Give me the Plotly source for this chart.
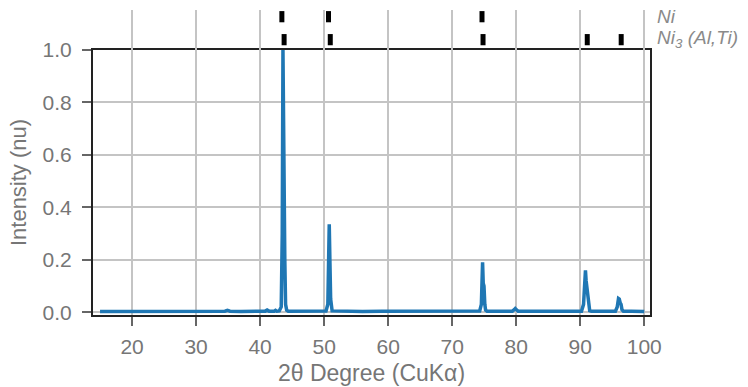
import plotly.graph_objects as go

# Diffractogram trace: 2-theta (deg) and normalised intensity
two_theta = [
    15.0, 17.0, 19.0, 21.0, 23.0, 25.0, 27.0, 29.0, 31.0, 33.0,
    34.5, 34.9, 35.3, 37.0, 39.0, 40.8, 41.1, 41.4, 42.2, 42.4, 42.6,
    43.0, 43.3, 43.46, 43.57, 43.66, 43.76, 43.86, 43.98, 44.15, 44.4,
    46.0, 48.0, 50.3, 50.58, 50.72, 50.8, 50.9, 51.02, 51.25,
    53.0, 56.0, 59.0, 62.0, 65.0, 68.0, 71.0, 73.5,
    74.3, 74.56, 74.68, 74.75, 74.85, 74.97, 75.1, 75.22, 75.45,
    77.0, 79.4, 79.7, 79.85, 80.0, 80.3,
    82.0, 85.0, 88.0, 90.2,
    90.52, 90.72, 90.82, 90.92, 91.05, 91.18, 91.32, 91.48, 91.75,
    93.0, 95.5, 95.78, 95.98, 96.1, 96.25, 96.38, 96.52, 96.75,
    98.0, 100.0,
]
intensity = [
    0.003, 0.003, 0.003, 0.004, 0.003, 0.003, 0.004, 0.003, 0.003, 0.004,
    0.004, 0.007, 0.004, 0.003, 0.004, 0.004, 0.008, 0.004, 0.004, 0.007, 0.004,
    0.005, 0.02, 0.3, 1.0, 0.56, 0.55, 0.2, 0.03, 0.008, 0.004,
    0.004, 0.004, 0.005, 0.03, 0.2, 0.335, 0.2, 0.05, 0.005,
    0.004, 0.003, 0.004, 0.004, 0.003, 0.004, 0.004, 0.004,
    0.005, 0.03, 0.15, 0.19, 0.11, 0.1, 0.03, 0.008, 0.004,
    0.004, 0.004, 0.01, 0.014, 0.01, 0.004,
    0.004, 0.003, 0.004, 0.004,
    0.03, 0.13, 0.16, 0.12, 0.085, 0.07, 0.02, 0.006, 0.004,
    0.004, 0.004, 0.02, 0.052, 0.05, 0.035, 0.03, 0.01, 0.004,
    0.004, 0.003,
]

# Reference reflection positions for the two phases
phase_names = ["Ni<sub>3</sub> (Al,Ti)", "Ni"]
ni_positions = [43.4, 50.68, 74.66]
ni3_positions = [43.75, 50.96, 74.82, 91.1, 96.4]

x_ticks = [20, 30, 40, 50, 60, 70, 80, 90, 100]
y_ticks = [0.0, 0.2, 0.4, 0.6, 0.8, 1.0]

FONT = "Liberation Sans, Arial, sans-serif"
GRID = "#c4c4c4"
TEXT = "#767676"
BLUE = "#1f77b4"

fig = go.Figure()

fig.add_trace(go.Scatter(
    x=two_theta, y=intensity, mode="lines",
    line=dict(color=BLUE, width=3.5), xaxis="x", yaxis="y",
    showlegend=False, hoverinfo="skip",
))

for row, positions in enumerate([ni3_positions, ni_positions]):
    fig.add_trace(go.Scatter(
        x=positions, y=[row] * len(positions), mode="markers",
        marker=dict(symbol="line-ns", size=8,
                    line=dict(color="black", width=5)),
        xaxis="x2", yaxis="y2", showlegend=False, hoverinfo="skip",
    ))

for row, name in enumerate(phase_names):
    fig.add_annotation(
        x=1, xref="paper", xshift=5, xanchor="left",
        y=row, yref="y2", yanchor="middle", yshift=(1 if row == 0 else 0),
        text="<i>" + name + "</i>",
        showarrow=False, font=dict(family=FONT, size=19, color="#8a8a8a"),
    )

x_range = [13.9, 100.9]
split = 0.869

fig.update_layout(
    width=748, height=387,
    margin=dict(l=93, r=98, t=10, b=72),
    paper_bgcolor="white", plot_bgcolor="white",
    font=dict(family=FONT, color=TEXT),
    xaxis=dict(
        range=x_range, tickvals=x_ticks, domain=[0, 1], anchor="y",
        showgrid=True, gridcolor=GRID, gridwidth=2,
        showline=True, linecolor="#222222", linewidth=2, mirror=True,
        ticks="outside", ticklen=9, tickwidth=2, tickcolor="#666666",
        tickfont=dict(size=21, color=TEXT), ticklabelstandoff=3,
        title=dict(text="2θ Degree (CuKα)", font=dict(size=23, color=TEXT),
                   standoff=8),
        zeroline=False, automargin=False,
    ),
    yaxis=dict(
        range=[-0.0107, 1.0], tickvals=y_ticks, tickformat=".1f",
        domain=[0, split], anchor="x",
        showgrid=True, gridcolor=GRID, gridwidth=2,
        showline=True, linecolor="#222222", linewidth=2, mirror=True,
        ticks="outside", ticklen=9, tickwidth=2, tickcolor="#666666",
        tickfont=dict(size=21, color=TEXT), ticklabelstandoff=6,
        title=dict(text="Intensity (nu)", font=dict(size=22, color=TEXT),
                   standoff=10),
        zeroline=False, automargin=False,
    ),
    xaxis2=dict(
        range=x_range, tickvals=x_ticks, domain=[0, 1], anchor="y2",
        showgrid=True, gridcolor=GRID, gridwidth=2,
        showline=False, showticklabels=False, ticks="", zeroline=False,
    ),
    yaxis2=dict(
        range=[-0.448, 1.291], domain=[split, 1], anchor="x2",
        showgrid=False, showline=False, showticklabels=False,
        ticks="", zeroline=False,
    ),
)

fig.write_html("out.html")
